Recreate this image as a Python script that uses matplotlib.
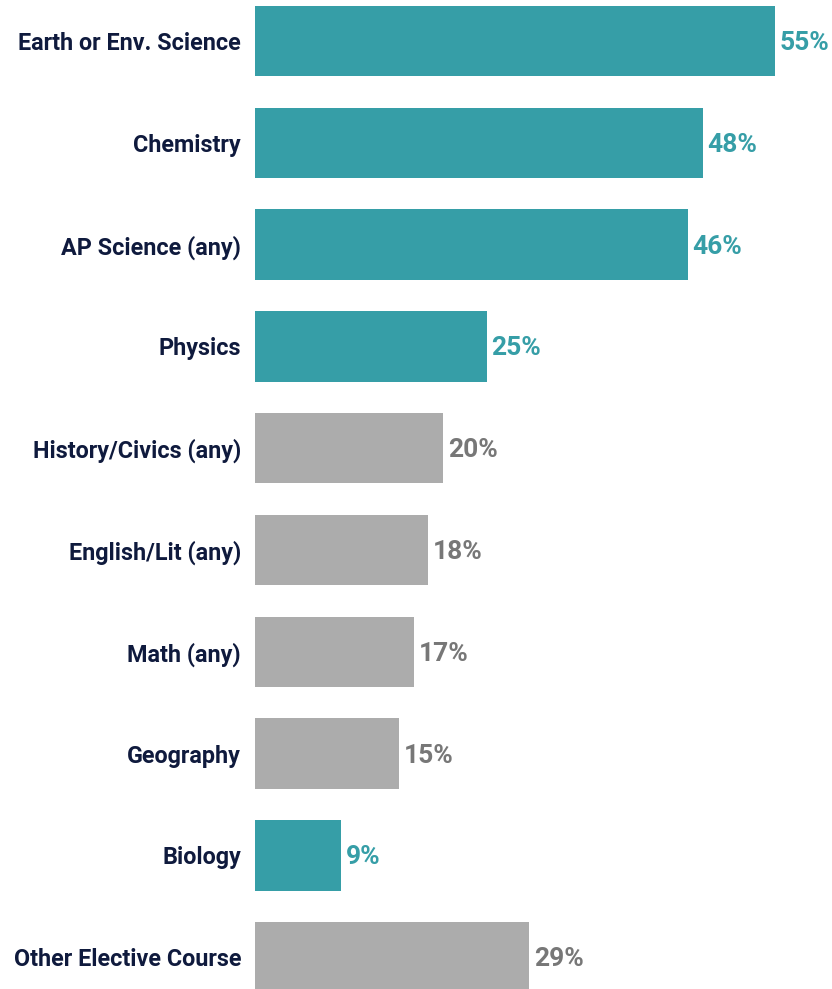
import matplotlib
matplotlib.use("Agg")
import matplotlib.pyplot as plt
from matplotlib import font_manager

categories = ["Earth or Env. Science", "Chemistry", "AP Science (any)", "Physics",
              "History/Civics (any)", "English/Lit (any)", "Math (any)", "Geography",
              "Biology", "Other Elective Course"]
# bar lengths, labels as printed
values = [55.0, 47.4, 45.8, 24.5, 19.9, 18.3, 16.8, 15.2, 9.1, 29.0]
labels = ["55%", "48%", "46%", "25%", "20%", "18%", "17%", "15%", "9%", "29%"]
science = [True, True, True, True, False, False, False, False, True, False]

teal = "#369ea7"
grey = "#acacac"
navy = "#0f1a3d"

names = {f.name for f in font_manager.fontManager.ttflist}
font = "Liberation Sans Narrow" if "Liberation Sans Narrow" in names else "Roboto"
plt.rcParams["font.family"] = [font, "DejaVu Sans"]

fig = plt.figure(figsize=(8.32, 9.89), dpi=100)
ax = fig.add_axes([255 / 832, 0, 1 - 255 / 832, 1])

colors = [teal if s else grey for s in science]
ypos = range(len(categories))
ax.barh(ypos, values, height=0.69, color=colors)

for y, v, lab, s in zip(ypos, values, labels, science):
    ax.text(v + 0.5, y + 0.02, lab, va="center", ha="left", fontsize=19,
            fontweight="bold", color=teal if s else "#777777")

ax.set_yticks(list(ypos))
ax.set_yticklabels(categories, fontsize=16.8, fontweight="bold", color=navy)
ax.tick_params(axis="y", length=0, pad=10)
ax.set_xticks([])
ax.set_xlim(0, (832 - 255) / 9.45)
ax.set_ylim((989 - 41) / 101.8, -41 / 101.8)
for sp in ax.spines.values():
    sp.set_visible(False)

fig.savefig("out.png", dpi=100)
